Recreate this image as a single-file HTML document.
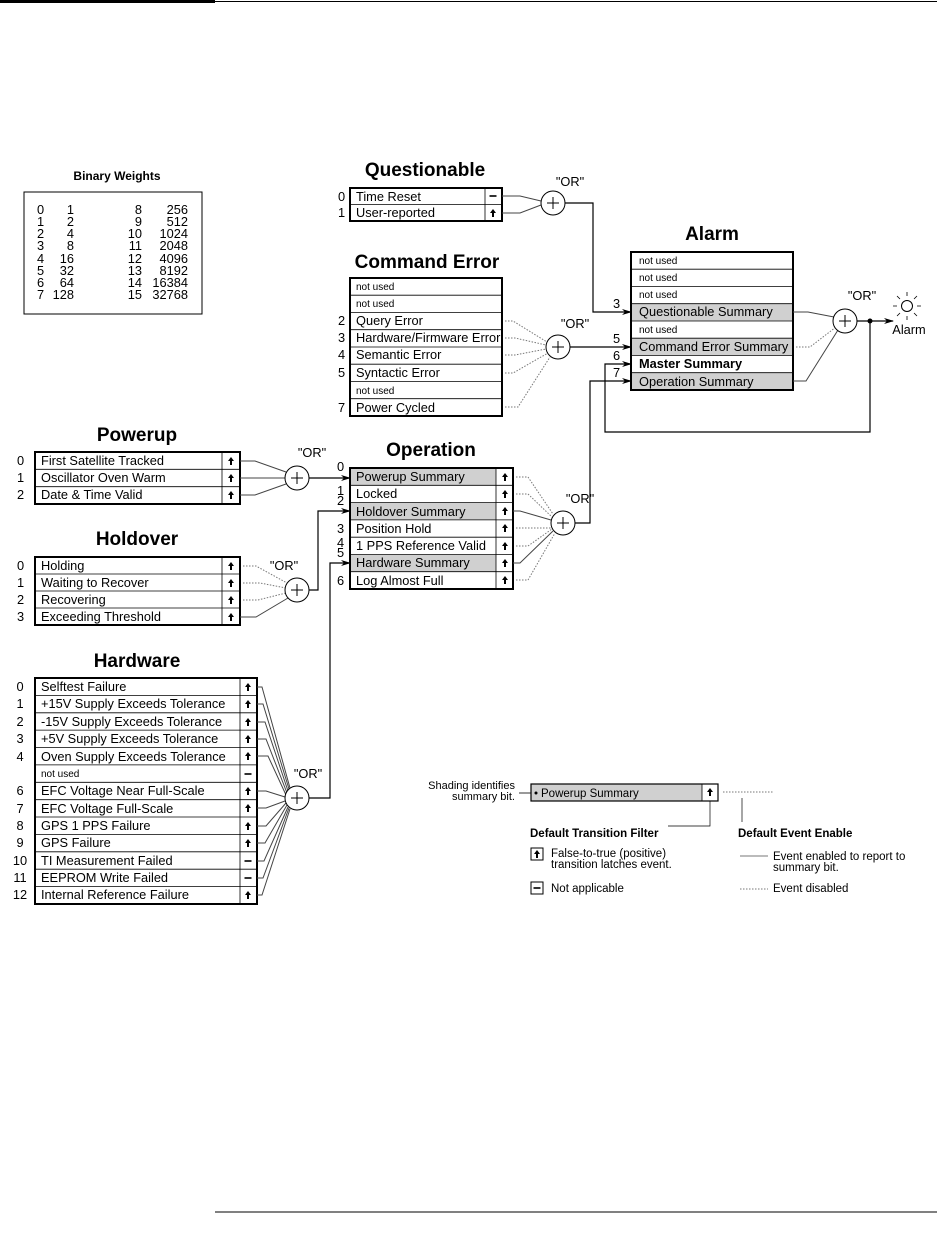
<!DOCTYPE html>
<html><head><style>
body{margin:0;background:#fff}
svg{display:block}
text{font-family:"Liberation Sans",sans-serif;font-size:12.8px;fill:#000}
.t{font-size:19px;font-weight:bold}
.s{font-size:10px}
.b{font-weight:bold}
.box{fill:none;stroke:#000;stroke-width:2}
.r{stroke:#000;stroke-width:0.8}
.sh{fill:#d0d0d0}
.c{fill:#fff;stroke:#000;stroke-width:1}
.w{fill:none;stroke:#444;stroke-width:1}
.d{fill:none;stroke:#777;stroke-width:1;stroke-dasharray:1.5,1.5}
.k{fill:none;stroke:#000;stroke-width:1.2}
</style></head><body>
<svg width="937" height="1242" viewBox="0 0 937 1242">
<defs>
<g id="up"><path d="M0,-4 L3,0 L1,0 L1,4 L-1,4 L-1,0 L-3,0 Z" fill="#000"/></g>
<g id="mn"><rect x="-3.5" y="-0.8" width="7" height="1.6" fill="#000"/></g>
<g id="plus"><path d="M-6,0 H6 M0,-6 V6" stroke="#000" stroke-width="1"/></g>
<marker id="ar" markerWidth="10" markerHeight="8" refX="9" refY="4" orient="auto" markerUnits="userSpaceOnUse"><path d="M0,1 L10,4 L0,7 L3,4 Z" fill="#000"/></marker>
</defs>
<rect x="0" y="0" width="215" height="3" fill="#000"/>
<line x1="215" y1="1.5" x2="937" y2="1.5" stroke="#000" stroke-width="1"/>
<line x1="215" y1="1212" x2="937" y2="1212" stroke="#000" stroke-width="1"/>

<!-- Binary weights -->
<text x="117" y="180" text-anchor="middle" class="b" style="font-size:12px">Binary Weights</text>
<rect x="24" y="192" width="178" height="122" fill="none" stroke="#000" stroke-width="1"/>
<g style="font-size:13px">
<text x="37" y="214">0</text><text x="74" y="214" text-anchor="end">1</text><text x="142" y="214" text-anchor="end">8</text><text x="188" y="214" text-anchor="end">256</text>
<text x="37" y="226">1</text><text x="74" y="226" text-anchor="end">2</text><text x="142" y="226" text-anchor="end">9</text><text x="188" y="226" text-anchor="end">512</text>
<text x="37" y="238">2</text><text x="74" y="238" text-anchor="end">4</text><text x="142" y="238" text-anchor="end">10</text><text x="188" y="238" text-anchor="end">1024</text>
<text x="37" y="250">3</text><text x="74" y="250" text-anchor="end">8</text><text x="142" y="250" text-anchor="end">11</text><text x="188" y="250" text-anchor="end">2048</text>
<text x="37" y="263">4</text><text x="74" y="263" text-anchor="end">16</text><text x="142" y="263" text-anchor="end">12</text><text x="188" y="263" text-anchor="end">4096</text>
<text x="37" y="275">5</text><text x="74" y="275" text-anchor="end">32</text><text x="142" y="275" text-anchor="end">13</text><text x="188" y="275" text-anchor="end">8192</text>
<text x="37" y="287">6</text><text x="74" y="287" text-anchor="end">64</text><text x="142" y="287" text-anchor="end">14</text><text x="188" y="287" text-anchor="end">16384</text>
<text x="37" y="299">7</text><text x="74" y="299" text-anchor="end">128</text><text x="142" y="299" text-anchor="end">15</text><text x="188" y="299" text-anchor="end">32768</text>
</g>

<!-- Questionable -->
<text x="425" y="176" text-anchor="middle" class="t">Questionable</text>
<line class="r" x1="350" y1="204.5" x2="502" y2="204.5"/>
<line class="r" x1="485" y1="188" x2="485" y2="221"/>
<rect class="box" x="350" y="188" width="152" height="33"/>
<text x="356" y="201">Time Reset</text><text x="356" y="217">User-reported</text>
<text x="338" y="201">0</text><text x="338" y="217">1</text>
<use href="#mn" x="493" y="196"/><use href="#up" x="493" y="213"/>
<path class="w" d="M502,196 H520 L541,201 M502,213 H520 L541,205"/>
<circle class="c" cx="553" cy="203" r="12"/><use href="#plus" x="553" y="203"/>
<text x="570" y="186" text-anchor="middle">"OR"</text>
<path class="k" d="M565,203 H593 V312 H631" stroke="#555" marker-end="url(#ar)"/>
<text x="613" y="308">3</text>

<!-- Command Error -->
<text x="427" y="268" text-anchor="middle" class="t">Command Error</text>
<g class="r">
<line x1="350" y1="295.2" x2="502" y2="295.2"/><line x1="350" y1="312.5" x2="502" y2="312.5"/>
<line x1="350" y1="329.7" x2="502" y2="329.7"/><line x1="350" y1="347" x2="502" y2="347"/>
<line x1="350" y1="364.2" x2="502" y2="364.2"/><line x1="350" y1="381.5" x2="502" y2="381.5"/>
<line x1="350" y1="398.7" x2="502" y2="398.7"/></g>
<rect class="box" x="350" y="278" width="152" height="138"/>
<text x="356" y="290" class="s">not used</text><text x="356" y="307" class="s">not used</text>
<text x="356" y="325">Query Error</text><text x="356" y="342">Hardware/Firmware Error</text>
<text x="356" y="359">Semantic Error</text><text x="356" y="377">Syntactic Error</text>
<text x="356" y="394" class="s">not used</text><text x="356" y="412">Power Cycled</text>
<text x="338" y="325">2</text><text x="338" y="342">3</text><text x="338" y="359">4</text><text x="338" y="377">5</text><text x="338" y="412">7</text>
<path class="d" d="M505,321 H513 L547,342 M505,338 H515 L546,345 M505,355 H515 L546,349 M505,373 H513 L548,353 M505,407 H518 L550,357"/>
<circle class="c" cx="558" cy="347" r="12"/><use href="#plus" x="558" y="347"/>
<text x="575" y="328" text-anchor="middle">"OR"</text>
<path class="k" d="M570,347 H631" marker-end="url(#ar)"/>
<text x="613" y="343">5</text>

<!-- Alarm -->
<text x="712" y="240" text-anchor="middle" class="t">Alarm</text>
<rect class="sh" x="631" y="304" width="162" height="17"/>
<rect class="sh" x="631" y="338" width="162" height="17"/>
<rect class="sh" x="631" y="373" width="162" height="17"/>
<g class="r">
<line x1="631" y1="269.2" x2="793" y2="269.2"/><line x1="631" y1="286.5" x2="793" y2="286.5"/>
<line x1="631" y1="303.7" x2="793" y2="303.7"/><line x1="631" y1="321" x2="793" y2="321"/>
<line x1="631" y1="338.2" x2="793" y2="338.2"/><line x1="631" y1="355.5" x2="793" y2="355.5"/>
<line x1="631" y1="372.7" x2="793" y2="372.7"/></g>
<rect class="box" x="631" y="252" width="162" height="138"/>
<text x="639" y="264" class="s">not used</text><text x="639" y="281" class="s">not used</text>
<text x="639" y="298" class="s">not used</text><text x="639" y="316">Questionable Summary</text>
<text x="639" y="333" class="s">not used</text><text x="639" y="351">Command Error Summary</text>
<text x="639" y="368" class="b">Master Summary</text><text x="639" y="386">Operation Summary</text>
<path class="w" d="M793,312 H808 L834,317"/>
<path class="d" d="M796,347 H810 L836,327"/>
<path class="w" d="M793,381 H806 L838,330"/>
<circle class="c" cx="845" cy="321" r="12"/><use href="#plus" x="845" y="321"/>
<text x="862" y="300" text-anchor="middle">"OR"</text>
<path class="k" d="M857,321 H893" stroke="#555" marker-end="url(#ar)"/>
<circle cx="870" cy="321" r="2.5" fill="#000"/>
<path class="k" d="M870,321 V432 H605 V364 H631" marker-end="url(#ar)"/>
<text x="613" y="360">6</text>
<path class="k" d="M575,523 H590 V381 H631" marker-end="url(#ar)"/>
<text x="613" y="377">7</text>
<circle cx="907" cy="306" r="5.5" fill="#fff" stroke="#000"/>
<path d="M907,296 V292 M907,316 V320 M897,306 H893 M917,306 H921 M900,299 L897,296 M914,299 L917,296 M900,313 L897,316 M914,313 L917,316" stroke="#000" stroke-width="0.8"/>
<text x="909" y="334" text-anchor="middle">Alarm</text>

<!-- Powerup -->
<text x="137" y="441" text-anchor="middle" class="t">Powerup</text>
<g class="r"><line x1="35" y1="469.3" x2="240" y2="469.3"/><line x1="35" y1="486.7" x2="240" y2="486.7"/><line x1="222" y1="452" x2="222" y2="504"/></g>
<rect class="box" x="35" y="452" width="205" height="52"/>
<text x="41" y="465">First Satellite Tracked</text><text x="41" y="482">Oscillator Oven Warm</text><text x="41" y="499">Date &amp; Time Valid</text>
<text x="17" y="465">0</text><text x="17" y="482">1</text><text x="17" y="499">2</text>
<use href="#up" x="231" y="461"/><use href="#up" x="231" y="478"/><use href="#up" x="231" y="495"/>
<path class="w" d="M240,461 H255 L286,472 M240,478 H285 M240,495 H255 L286,484"/>
<circle class="c" cx="297" cy="478" r="12"/><use href="#plus" x="297" y="478"/>
<text x="312" y="457" text-anchor="middle">"OR"</text>
<path class="k" d="M309,478 H350" marker-end="url(#ar)"/>

<!-- Holdover -->
<text x="137" y="545" text-anchor="middle" class="t">Holdover</text>
<g class="r"><line x1="35" y1="574" x2="240" y2="574"/><line x1="35" y1="591" x2="240" y2="591"/><line x1="35" y1="608" x2="240" y2="608"/><line x1="222" y1="557" x2="222" y2="625"/></g>
<rect class="box" x="35" y="557" width="205" height="68"/>
<text x="41" y="570">Holding</text><text x="41" y="587">Waiting to Recover</text><text x="41" y="604">Recovering</text><text x="41" y="621">Exceeding Threshold</text>
<text x="17" y="570">0</text><text x="17" y="587">1</text><text x="17" y="604">2</text><text x="17" y="621">3</text>
<use href="#up" x="231" y="566"/><use href="#up" x="231" y="583"/><use href="#up" x="231" y="600"/><use href="#up" x="231" y="617"/>
<path class="d" d="M243,566 H256 L287,583 M243,583 H260 L286,588 M243,600 H258 L286,593"/>
<path class="w" d="M240,617 H256 L288,598"/>
<circle class="c" cx="297" cy="590" r="12"/><use href="#plus" x="297" y="590"/>
<text x="284" y="570" text-anchor="middle">"OR"</text>
<path class="k" d="M309,590 H318 V511 H350" stroke="#555" marker-end="url(#ar)"/>

<!-- Operation -->
<text x="431" y="456" text-anchor="middle" class="t">Operation</text>
<rect class="sh" x="350" y="468" width="163" height="17"/>
<rect class="sh" x="350" y="503" width="163" height="17"/>
<rect class="sh" x="350" y="555" width="163" height="17"/>
<rect x="496" y="468" width="17" height="121" fill="#fff"/>
<g class="r">
<line x1="350" y1="485.3" x2="513" y2="485.3"/><line x1="350" y1="502.6" x2="513" y2="502.6"/>
<line x1="350" y1="519.9" x2="513" y2="519.9"/><line x1="350" y1="537.2" x2="513" y2="537.2"/>
<line x1="350" y1="554.4" x2="513" y2="554.4"/><line x1="350" y1="571.7" x2="513" y2="571.7"/>
<line x1="496" y1="468" x2="496" y2="589"/></g>
<rect class="box" x="350" y="468" width="163" height="121"/>
<text x="356" y="481">Powerup Summary</text><text x="356" y="498">Locked</text>
<text x="356" y="516">Holdover Summary</text><text x="356" y="533">Position Hold</text>
<text x="356" y="550">1 PPS Reference Valid</text><text x="356" y="567">Hardware Summary</text>
<text x="356" y="585">Log Almost Full</text>
<text x="337" y="471">0</text><text x="337" y="495">1</text><text x="337" y="505">2</text>
<text x="337" y="533">3</text><text x="337" y="547">4</text><text x="337" y="557">5</text><text x="337" y="585">6</text>
<use href="#up" x="505" y="477"/><use href="#up" x="505" y="494"/><use href="#up" x="505" y="511"/><use href="#up" x="505" y="528"/><use href="#up" x="505" y="546"/><use href="#up" x="505" y="563"/><use href="#up" x="505" y="580"/>
<path class="d" d="M516,477 H528 L553,514 M516,494 H528 L552,517 M516,528 H551 M516,546 H528 L552,529 M516,580 H528 L555,533"/>
<path class="w" d="M513,511 H520 L551,520 M513,563 H520 L553,531"/>
<circle class="c" cx="563" cy="523" r="12"/><use href="#plus" x="563" y="523"/>
<text x="580" y="503" text-anchor="middle">"OR"</text>

<!-- Hardware -->
<text x="137" y="667" text-anchor="middle" class="t">Hardware</text>
<g class="r">
<line x1="35" y1="695.4" x2="257" y2="695.4"/><line x1="35" y1="712.8" x2="257" y2="712.8"/>
<line x1="35" y1="730.1" x2="257" y2="730.1"/><line x1="35" y1="747.5" x2="257" y2="747.5"/>
<line x1="35" y1="764.9" x2="257" y2="764.9"/><line x1="35" y1="782.3" x2="257" y2="782.3"/>
<line x1="35" y1="799.7" x2="257" y2="799.7"/><line x1="35" y1="817" x2="257" y2="817"/>
<line x1="35" y1="834.4" x2="257" y2="834.4"/><line x1="35" y1="851.8" x2="257" y2="851.8"/>
<line x1="35" y1="869.2" x2="257" y2="869.2"/><line x1="35" y1="886.6" x2="257" y2="886.6"/>
<line x1="240" y1="678" x2="240" y2="904"/></g>
<rect class="box" x="35" y="678" width="222" height="226"/>
<g style="font-size:13.6px">
<text x="41" y="691">Selftest Failure</text><text x="41" y="708">+15V Supply Exceeds Tolerance</text>
<text x="41" y="726">-15V Supply Exceeds Tolerance</text><text x="41" y="743">+5V Supply Exceeds Tolerance</text>
<text x="41" y="761">Oven Supply Exceeds Tolerance</text>
<text x="41" y="795">EFC Voltage Near Full-Scale</text><text x="41" y="813">EFC Voltage Full-Scale</text>
<text x="41" y="830">GPS 1 PPS Failure</text><text x="41" y="847">GPS Failure</text>
<text x="41" y="865">TI Measurement Failed</text><text x="41" y="882">EEPROM Write Failed</text>
<text x="41" y="899">Internal Reference Failure</text></g>
<text x="41" y="777" class="s">not used</text>
<g text-anchor="middle">
<text x="20" y="691">0</text><text x="20" y="708">1</text><text x="20" y="726">2</text><text x="20" y="743">3</text><text x="20" y="761">4</text>
<text x="20" y="795">6</text><text x="20" y="813">7</text><text x="20" y="830">8</text><text x="20" y="847">9</text>
<text x="20" y="865">10</text><text x="20" y="882">11</text><text x="20" y="899">12</text></g>
<use href="#up" x="248" y="687"/><use href="#up" x="248" y="704"/><use href="#up" x="248" y="722"/><use href="#up" x="248" y="739"/><use href="#up" x="248" y="756"/><use href="#mn" x="248" y="774"/>
<use href="#up" x="248" y="791"/><use href="#up" x="248" y="808"/><use href="#up" x="248" y="826"/><use href="#up" x="248" y="843"/><use href="#mn" x="248" y="861"/><use href="#mn" x="248" y="878"/><use href="#up" x="248" y="895"/>
<path class="w" d="M257,687 H262 L290,788 M257,704 H263 L289,789 M257,722 H265 L288,791 M257,739 H266 L287,793 M257,756 H268 L286,795 M257,791 H266 L285,797 M257,808 H266 L285,801 M257,826 H266 L286,803 M257,843 H265 L287,805 M257,861 H264 L288,807 M257,878 H263 L289,808 M257,895 H262 L290,809"/>
<circle class="c" cx="297" cy="798" r="12"/><use href="#plus" x="297" y="798"/>
<text x="308" y="778" text-anchor="middle">"OR"</text>
<path class="k" d="M309,798 H330 V563 H350" stroke="#555" marker-end="url(#ar)"/>

<!-- Legend -->
<text x="515" y="789" text-anchor="end" style="font-size:11px">Shading identifies</text>
<text x="515" y="800" text-anchor="end" style="font-size:11px">summary bit.</text>
<line x1="519" y1="793" x2="535" y2="793" stroke="#000" stroke-width="0.8"/>
<rect class="sh" x="531" y="784" width="187" height="17"/>
<rect x="702" y="784" width="16" height="17" fill="#fff"/>
<rect x="531" y="784" width="187" height="17" fill="none" stroke="#000" stroke-width="1.2"/>
<line class="r" x1="702" y1="784" x2="702" y2="801"/>
<circle cx="536" cy="793" r="1.5" fill="#000"/>
<text x="541" y="797" style="font-size:11.5px">Powerup Summary</text>
<use href="#up" x="710" y="792"/>
<line class="d" x1="723" y1="792" x2="773" y2="792"/>
<path d="M710,801 V826 H668" fill="none" stroke="#000" stroke-width="0.7"/>
<line x1="742" y1="798" x2="742" y2="822" stroke="#000" stroke-width="0.7"/>
<text x="530" y="837" class="b" style="font-size:11.5px">Default Transition Filter</text>
<text x="738" y="837" class="b" style="font-size:11.5px">Default Event Enable</text>
<rect x="531" y="848" width="12" height="12" fill="none" stroke="#000"/><use href="#up" x="537" y="854"/>
<text x="551" y="857" style="font-size:11.5px">False-to-true (positive)</text>
<text x="551" y="868" style="font-size:11.5px">transition latches event.</text>
<rect x="531" y="882" width="12" height="12" fill="none" stroke="#000"/><use href="#mn" x="537" y="888"/>
<text x="551" y="892" style="font-size:11.5px">Not applicable</text>
<line x1="740" y1="856" x2="768" y2="856" stroke="#777"/>
<text x="773" y="860" style="font-size:11.5px">Event enabled to report to</text>
<text x="773" y="871" style="font-size:11.5px">summary bit.</text>
<line class="d" x1="740" y1="889" x2="768" y2="889"/>
<text x="773" y="892" style="font-size:11.5px">Event disabled</text>
</svg>
</body></html>
